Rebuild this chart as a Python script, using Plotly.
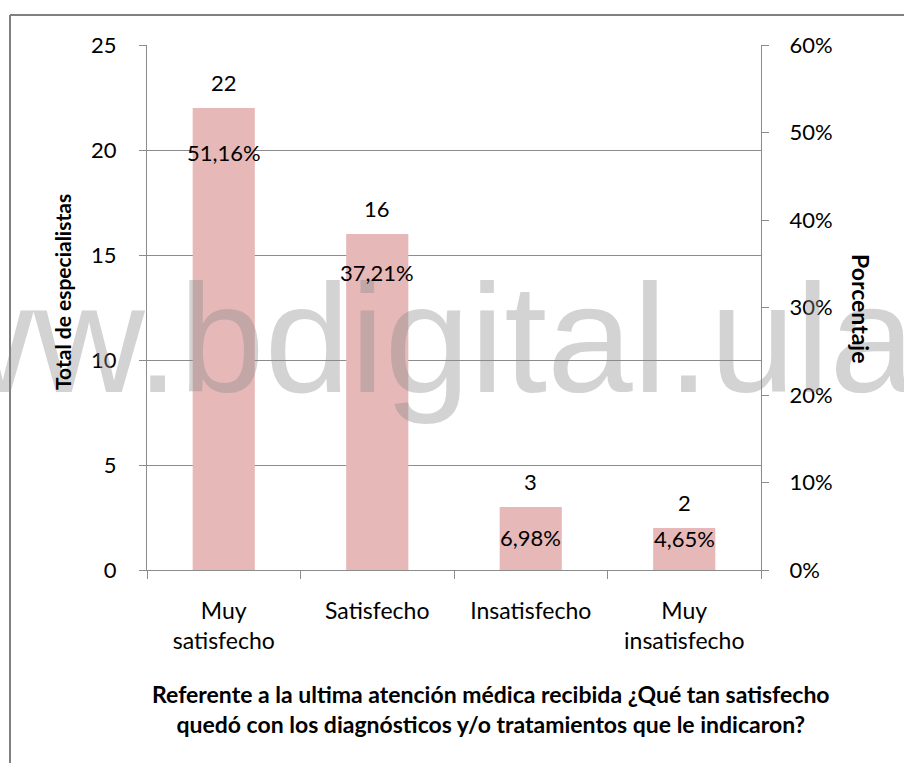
import plotly.graph_objects as go

categories = ["Muy<br>satisfecho", "Satisfecho", "Insatisfecho", "Muy<br>insatisfecho"]
counts = [22, 16, 3, 2]
percentages = [51.16, 37.21, 6.98, 4.65]
left_ticks = [0, 5, 10, 15, 20, 25]
right_ticks = [0, 10, 20, 30, 40, 50, 60]

FONT = "Lato"
BAR = "#E6B9B8"
GRID = "#8C8C8C"

W, H = 904, 763
ML, MR, MT, MB = 147, 143, 45, 193
PW = W - ML - MR
PH = H - MT - MB

def px_x(px):
    return (px - ML) / PW

def px_y(py):
    return (H - MB - py) / PH

fig = go.Figure()
fig.add_trace(go.Bar(x=categories, y=counts, marker=dict(color=BAR, line=dict(width=0)),
                     yaxis="y", showlegend=False, hoverinfo="skip"))
fig.add_trace(go.Scatter(x=categories, y=percentages, yaxis="y2", mode="markers",
                         marker=dict(opacity=0), showlegend=False, hoverinfo="skip"))

ann = []
# watermark
ann.append(dict(text="www.bdigital.ula.ve", xref="paper", yref="paper",
                x=px_x(465), y=px_y(339), xanchor="center", yanchor="middle",
                showarrow=False,
                font=dict(family="Liberation Sans", size=154, color="rgba(140,140,140,0.38)")))
# count labels
for c, v in zip(categories, counts):
    ann.append(dict(text=str(v), x=c, y=v, xref="x", yref="y", yanchor="bottom",
                    yshift=10, showarrow=False, font=dict(family=FONT, size=22, color="black")))
# percent labels
shifts = [-30, -28, -29, -9]
for c, p, s in zip(categories, percentages, shifts):
    ann.append(dict(text=f"{p:.2f}".replace(".", ",") + "%", x=c, y=p, xref="x", yref="y2",
                    yanchor="middle", yshift=s, showarrow=False,
                    font=dict(family=FONT, size=22, color="black")))
# axis titles
ann.append(dict(text="<b>Total de especialistas</b>", xref="paper", yref="paper",
                x=px_x(62), y=px_y(292), textangle=-90, showarrow=False,
                xanchor="center", yanchor="middle",
                font=dict(family=FONT, size=21, color="black")))
ann.append(dict(text="<b>Porcentaje</b>", xref="paper", yref="paper",
                x=px_x(861), y=px_y(308), textangle=90, showarrow=False,
                xanchor="center", yanchor="middle",
                font=dict(family=FONT, size=23, color="black")))
ann.append(dict(text="<b>Referente a la ultima atención médica recibida ¿Qué tan satisfecho<br>quedó con los diagnósticos y/o tratamientos que le indicaron?</b>",
                xref="paper", yref="paper", x=px_x(491), y=px_y(709), showarrow=False,
                xanchor="center", yanchor="middle", align="center",
                font=dict(family=FONT, size=23, color="black")))

shapes = [
    dict(type="line", xref="paper", yref="paper", x0=px_x(10), x1=px_x(10), y0=px_y(15), y1=px_y(800),
         line=dict(color="#808080", width=2)),
    dict(type="line", xref="paper", yref="paper", x0=px_x(10), x1=px_x(950), y0=px_y(15), y1=px_y(15),
         line=dict(color="#808080", width=2)),
]

fig.update_layout(
    width=W, height=H,
    margin=dict(l=ML, r=MR, t=MT, b=MB, autoexpand=False),
    paper_bgcolor="white", plot_bgcolor="white",
    bargap=0.595,
    font=dict(family=FONT, size=22, color="black"),
    xaxis=dict(type="category", showgrid=False, showline=True, linecolor=GRID, linewidth=1,
               ticks="outside", tickson="boundaries", ticklen=8, tickcolor=GRID,
               tickfont=dict(family=FONT, size=23, color="black"), ticklabelstandoff=20),
    yaxis=dict(range=[0, 25], tickvals=left_ticks, showgrid=True, gridcolor=GRID, gridwidth=1,
               showline=True, linecolor=GRID, linewidth=1, ticks="outside", ticklen=7,
               tickcolor=GRID, zeroline=False, ticklabelstandoff=18,
               tickfont=dict(family=FONT, size=22, color="black")),
    yaxis2=dict(range=[0, 60], tickvals=right_ticks, ticktext=[f"{t}%" for t in right_ticks],
                overlaying="y", side="right", showgrid=False, showline=True, linecolor=GRID,
                linewidth=1, ticks="outside", ticklen=7, tickcolor=GRID, zeroline=False,
                ticklabelstandoff=16, tickfont=dict(family=FONT, size=22, color="black")),
    annotations=ann,
    shapes=shapes,
)

fig.write_html("out.html", config={"displayModeBar": False},
               post_script="document.body.style.margin='0';document.body.style.overflow='hidden';")
